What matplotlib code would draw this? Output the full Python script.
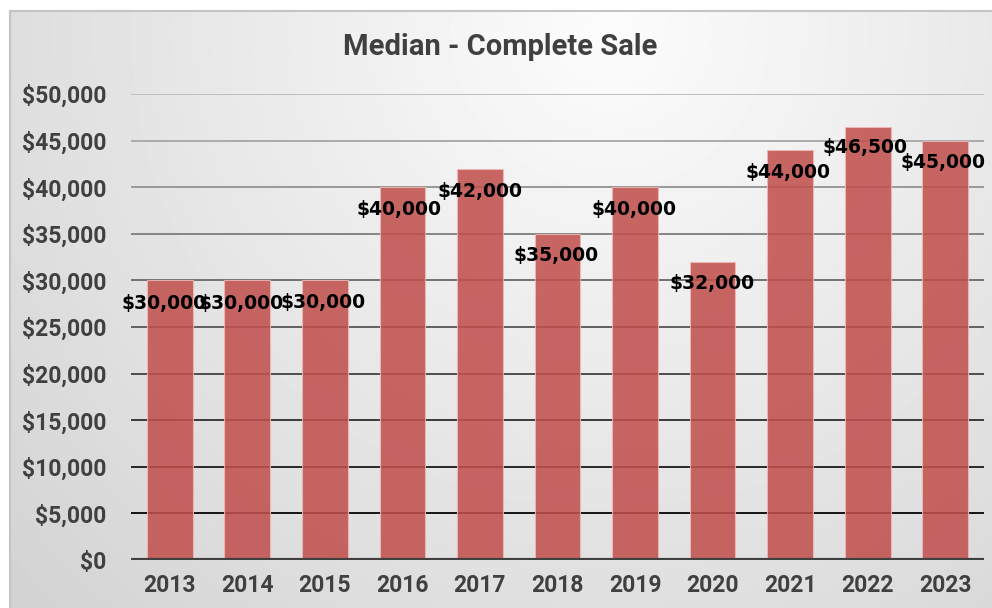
import numpy as np
import matplotlib.pyplot as plt
from matplotlib.ticker import FuncFormatter

# data
years = ["2013", "2014", "2015", "2016", "2017", "2018", "2019", "2020", "2021", "2022", "2023"]
median_sale = [30000, 30000, 30000, 40000, 42000, 35000, 40000, 32000, 44000, 46500, 45000]

# label nudges in pixels (x shift, drop below bar top)
label_dx = [-6, -6, -2, -3, 0, -1, -1, -1, -2, -3, -2]
label_dy = [23, 23, 22, 22, 23, 22, 22, 22, 23, 21, 22]

W, H, DPI = 992, 608, 100
fig = plt.figure(figsize=(W / DPI, H / DPI), dpi=DPI)
fig.patch.set_facecolor("white")

# background panel with soft radial gradient
bg = fig.add_axes([9 / W, 0, 1 - 9 / W, (H - 10) / H])
bg.set_axis_off()
yy, xx = np.mgrid[0:598, 0:983]
r = np.hypot(xx - 600, yy - 20)
shade = np.clip(252 - 40 * r / 800, 0, 255) / 255
bg.imshow(shade, cmap="gray", vmin=0, vmax=1, aspect="auto", extent=[0, 1, 0, 1])
bg.set_xlim(0, 1)
bg.set_ylim(0, 1)
fig.add_artist(plt.Line2D([9.5 / W, 9.5 / W], [0, (H - 10.5) / H], color="#c4c4c4", lw=1.5))
fig.add_artist(plt.Line2D([9.5 / W, 1], [(H - 10.5) / H, (H - 10.5) / H], color="#c4c4c4", lw=1.5))

ax = fig.add_axes([131 / W, (H - 560) / H, (984 - 131) / W, (560 - 94) / H])
ax.patch.set_alpha(0)

x = np.arange(len(years))
ax.set_xlim(-0.5, len(years) - 0.5)
ax.set_ylim(0, 50000)

# gridlines fade from gray at top to black at bottom
levels = np.arange(5000, 50001, 5000)
for lv in levels:
    g = 20 + (lv - 5000) / 45000 * 170
    ax.axhline(lv, color=(g / 255, g / 255, g / 255), lw=1.4, zorder=1)
ax.axhline(0, color="#404040", lw=3, zorder=4)

bars = ax.bar(x, median_sale, width=0.59, color="#c0504d", alpha=0.87,
              edgecolor="#f0b8b6", linewidth=0.8, zorder=2)

for i, v in enumerate(median_sale):
    ax.annotate("${:,.0f}".format(v), (x[i], v),
                xytext=(label_dx[i] * 72 / DPI, -label_dy[i] * 72 / DPI),
                textcoords="offset points", ha="center", va="center",
                fontsize=13.5, fontweight="bold", color="black",
                family="DejaVu Sans", zorder=5)

for s in ax.spines.values():
    s.set_visible(False)
ax.set_yticks(np.arange(0, 50001, 5000))
ax.yaxis.set_major_formatter(FuncFormatter(lambda v, p: "${:,.0f}".format(v)))
ax.set_xticks(x)
ax.set_xticklabels(years)
ax.tick_params(length=0, labelsize=16.5, labelcolor="#404040")
ax.tick_params(axis="y", pad=18)
ax.tick_params(axis="x", pad=10)
for t in ax.get_xticklabels() + ax.get_yticklabels():
    t.set_fontfamily("Roboto")
    t.set_fontweight("bold")

fig.text(500 / W, 1 - 47 / H, "Median - Complete Sale", ha="center", va="center",
         fontsize=21, fontweight="bold", color="#404040", family="Roboto")

fig.savefig("out.png", dpi=DPI)
